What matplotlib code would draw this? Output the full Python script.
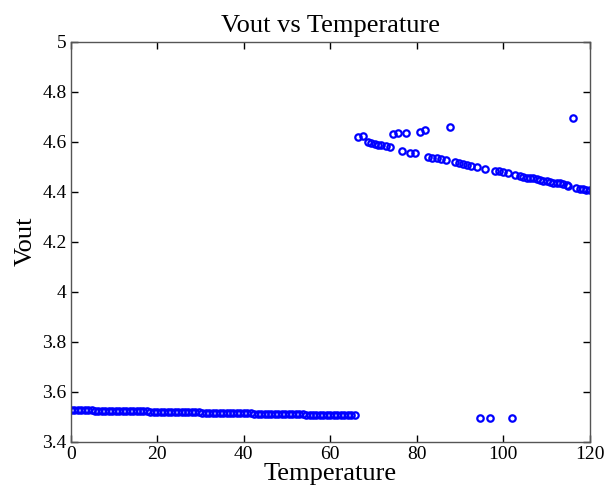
import matplotlib
matplotlib.use("Agg")
import matplotlib.pyplot as plt

# Low-voltage regime (0-66 degrees)
temp_low = [
    0.0, 0.8, 1.6, 2.4, 3.2, 4.0, 4.8,
    5.6, 6.4, 7.2, 8.0, 8.8, 9.6, 10.4, 11.2, 12.0, 12.8, 13.6, 14.4, 15.2, 16.0, 16.8, 17.6,
    18.4, 19.2, 20.0, 20.8, 21.6, 22.4, 23.2, 24.0, 24.8, 25.6, 26.4, 27.2, 28.0, 28.8, 29.6,
    30.4, 31.2, 32.0, 32.8, 33.6, 34.4, 35.2, 36.0, 36.8, 37.6, 38.4, 39.2, 40.0, 40.8, 41.6,
    42.4, 43.2, 44.0, 44.8, 45.6, 46.4, 47.2, 48.0, 48.8, 49.6, 50.4, 51.2, 52.0, 52.8, 53.6,
    54.4, 55.2, 56.0, 56.8, 57.6, 58.4, 59.2, 60.0, 60.8, 61.6, 62.4, 63.2, 64.0, 64.8, 65.6,
]
vout_low = [
    3.527, 3.527, 3.527, 3.527, 3.527, 3.527, 3.527,
    3.523, 3.523, 3.523, 3.523, 3.523, 3.523, 3.523, 3.523, 3.523, 3.523, 3.523, 3.523, 3.523, 3.523, 3.523, 3.523,
    3.519, 3.519, 3.519, 3.519, 3.519, 3.519, 3.519, 3.519, 3.519, 3.519, 3.519, 3.519, 3.519, 3.519, 3.519,
    3.515, 3.515, 3.515, 3.515, 3.515, 3.515, 3.515, 3.515, 3.515, 3.515, 3.515, 3.515, 3.515, 3.515, 3.515,
    3.511, 3.511, 3.511, 3.511, 3.511, 3.511, 3.511, 3.511, 3.511, 3.511, 3.511, 3.511, 3.511, 3.511, 3.511,
    3.507, 3.507, 3.507, 3.507, 3.507, 3.507, 3.507, 3.507, 3.507, 3.507, 3.507, 3.507, 3.507, 3.507, 3.507,
]

# High-voltage regime (66-120 degrees)
temp_high = [
    66.4, 67.6, 68.7, 69.5, 70.3, 71.1, 71.8, 72.8, 73.8, 76.6, 78.5, 79.6,
    82.6, 83.6, 84.7, 85.5, 86.7, 88.8, 89.7, 90.7, 91.6, 92.6, 93.8, 95.7,
    98.0, 99.0, 100.0, 101.0, 102.8, 103.8, 104.6, 105.4, 106.1, 106.9, 107.7,
    108.4, 109.2, 110.0, 110.8, 111.5, 112.3, 113.1, 113.8, 114.6, 115.0,
    116.9, 117.7, 118.4, 119.2, 120.0,
]
vout_high = [
    4.618, 4.623, 4.598, 4.594, 4.591, 4.588, 4.586, 4.583, 4.578, 4.564, 4.556, 4.554,
    4.540, 4.536, 4.533, 4.530, 4.527, 4.519, 4.514, 4.511, 4.508, 4.503, 4.500, 4.492,
    4.484, 4.482, 4.479, 4.476, 4.467, 4.463, 4.458, 4.456, 4.456, 4.454, 4.450,
    4.447, 4.444, 4.442, 4.439, 4.436, 4.436, 4.434, 4.432, 4.428, 4.423,
    4.414, 4.411, 4.410, 4.407, 4.407,
]

# Stray readings
temp_spike = [74.5, 75.7, 77.6, 80.7, 81.8, 87.6, 116.0]
vout_spike = [4.631, 4.636, 4.636, 4.640, 4.647, 4.658, 4.694]
temp_drop = [94.7, 97.0, 101.9]
vout_drop = [3.495, 3.495, 3.495]

temperature = temp_low + temp_high + temp_spike + temp_drop
vout = vout_low + vout_high + vout_spike + vout_drop

x_ticks = [0, 20, 40, 60, 80, 100, 120]
y_ticks = [3.4, 3.6, 3.8, 4.0, 4.2, 4.4, 4.6, 4.8, 5.0]
y_labels = ["3.4", "3.6", "3.8", "4", "4.2", "4.4", "4.6", "4.8", "5"]

plt.rcParams["font.family"] = ["Liberation Serif", "DejaVu Serif"]

fig = plt.figure(figsize=(6.05, 4.95), dpi=100)
ax = fig.add_axes([0.117, 0.108, 0.858, 0.808])

ax.plot(temperature, vout, linestyle="none", marker="o", markersize=4.6,
        markerfacecolor="none", markeredgecolor=(0, 0, 1), markeredgewidth=1.6)

ax.set_xlim(0, 120)
ax.set_ylim(3.4, 5.0)
ax.set_xticks(x_ticks)
ax.set_xticklabels([str(t) for t in x_ticks])
ax.set_yticks(y_ticks)
ax.set_yticklabels(y_labels)

ax.tick_params(direction="in", top=True, right=True, length=5, width=1,
               labelsize=14, color="black", pad=3)
for spine in ax.spines.values():
    spine.set_color("#555555")
    spine.set_linewidth(1.0)

ax.set_title("Vout vs Temperature", fontsize=19, pad=7)
ax.set_xlabel("Temperature", fontsize=19, labelpad=0)
ax.set_ylabel("Vout", fontsize=19, labelpad=4)

fig.savefig("out.png", dpi=100)
